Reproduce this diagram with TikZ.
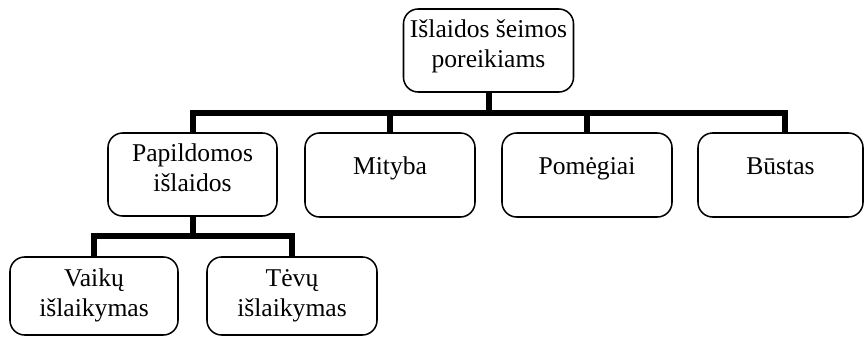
\documentclass[tikz,border=0pt]{standalone}
\usepackage{fontspec}
\setmainfont{Liberation Serif}
\usetikzlibrary{calc}
% tall invisible rule so every first line starts at the same height
\newcommand\toprule{\rule{0pt}{18pt}}
\begin{document}
\begin{tikzpicture}[x=0.75pt,y=-0.75pt,
  box/.style={draw, line width=1.15pt, rounded corners=11pt, inner sep=0pt},
  lbl/.style={inner sep=0pt, align=center, anchor=north,
    font=\fontsize{19.2pt}{22.2pt}\selectfont},
  bar/.style={line width=4.5pt, line join=miter, line cap=butt}]
\useasboundingbox[fill=white] (0,0) rectangle (865,336);

% boxes
\node[box, minimum width=127.5pt, minimum height=62.25pt] (root) at (488.5,50.5) {};
\node[box, minimum width=126.75pt, minimum height=62.25pt] (pap) at (192.5,174.5) {};
\node[box, minimum width=127.5pt, minimum height=63pt] (mit) at (390,175) {};
\node[box, minimum width=127.5pt, minimum height=63pt] (pom) at (587,175) {};
\node[box, minimum width=123.75pt, minimum height=63pt] (bus) at (780.5,175) {};
\node[box, minimum width=126pt, minimum height=58.5pt] (vai) at (94,296) {};
\node[box, minimum width=127.5pt, minimum height=58.5pt] (tev) at (292,296) {};

% labels
\node[lbl, yshift=-3.75pt] (root-t) at (root.north) {\toprule Išlaidos šeimos\\poreikiams};
\node[lbl, yshift=-3.75pt] (pap-t) at (pap.north) {\toprule Papildomos\\išlaidos};
\node[lbl, yshift=-13.5pt] (mit-t) at (mit.north) {\toprule Mityba};
\node[lbl, yshift=-13.5pt] (pom-t) at (pom.north) {\toprule Pomėgiai};
\node[lbl, yshift=-13.5pt] (bus-t) at (bus.north) {\toprule Būstas};
\node[lbl, yshift=-4.5pt] (vai-t) at (vai.north) {\toprule Vaikų\\išlaikymas};
\node[lbl, yshift=-4.5pt] (tev-t) at (tev.north) {\toprule Tėvų\\išlaikymas};

% bus lines
\coordinate (busL) at (193,113);
\coordinate (busR) at (785,113);
\coordinate (subL) at (95,236);

\draw[bar] (root.south) -- (root.south |- busL);
\draw[bar] (pap.north) -- (pap.north |- busL) -- (busR) -- (bus.north -| busR);
\draw[bar] (mit.north) -- (mit.north |- busL);
\draw[bar] (pom.north) -- (pom.north |- busL);

\draw[bar] (pap.south) -- (pap.south |- subL);
\draw[bar] (vai.north) -- (vai.north |- subL) -- (tev.north |- subL) -- (tev.north);
\end{tikzpicture}
\end{document}
